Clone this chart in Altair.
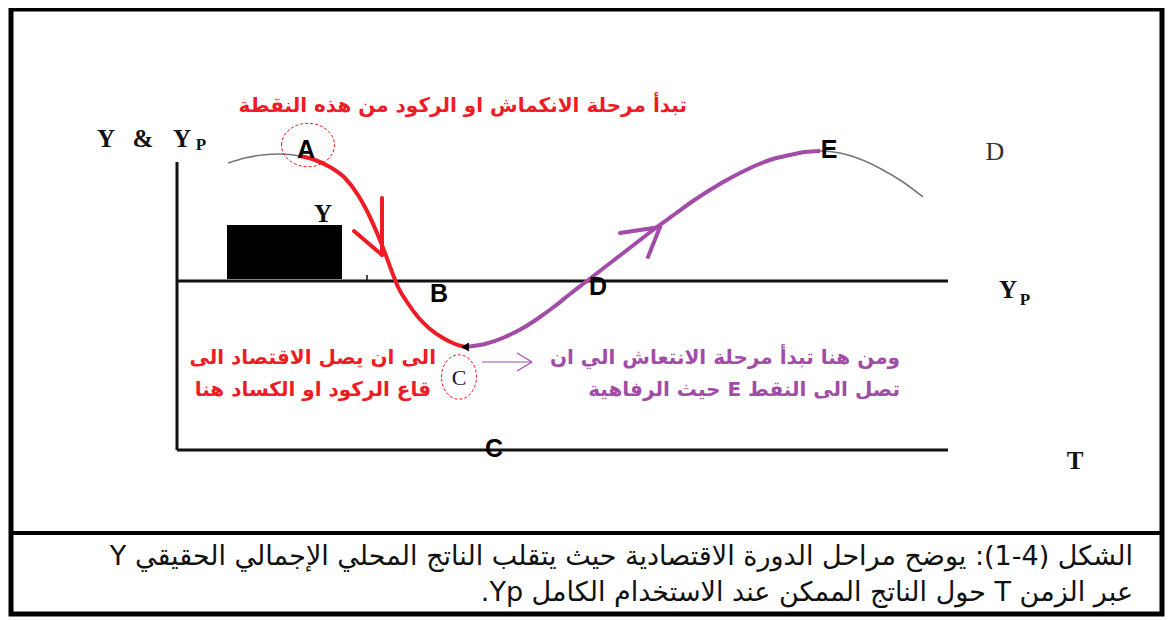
import altair as alt
import pandas as pd

# ---------------- data (diagram units: t to the right of the Y axis, y above the T axis) -------------
curve_t = [51, 68, 85, 103, 123, 138, 153, 168, 181, 191, 200, 208, 215, 221, 230, 241, 253, 266, 278, 288,
           308, 328, 346, 363, 378, 393, 410, 428, 445, 463, 480, 498, 516, 533, 548, 563, 580, 596, 613,
           628, 643, 663, 683, 706, 726, 746]
curve_y = [287, 292, 295, 296, 294, 290, 283, 272, 255, 237, 217, 197, 178, 163, 148, 133, 121, 112, 106, 103,
           106, 113, 122, 133, 144, 156, 169, 183, 196, 210, 223, 236, 249, 260, 269, 277, 285, 291, 295,
           298, 299, 297, 291, 280, 268, 253]
A_IDX, C_IDX, E_IDX = 4, 19, 40

yp_level = 169          # potential output Yp
t_axis_end = 771
y_axis_top = 288

point_names = ["A", "B", "D", "E", "C"]
point_t = [129, 262, 421, 652, 317]
point_y = [292, 148, 155, 292, -7]

red_top = "تبدأ مرحلة الانكماش او الركود من هذه النقطة"
red_left = ["الى ان يصل الاقتصاد الى", "قاع الركود او الكساد هنا"]
purple_right = ["ومن هنا تبدأ مرحلة الانتعاش الي ان", "تصل الى النقط E حيث الرفاهية"]
caption_lines = ["الشكل (4-1): يوضح مراحل الدورة الاقتصادية حيث يتقلب الناتج المحلي الإجمالي الحقيقي Y",
                 "عبر الزمن T حول الناتج الممكن عند الاستخدام الكامل Yp."]

RED = "#ee1c25"
PURPLE = "#a24ca8"


def rtl(s):
    return "\u202b" + s + "\u202c"


XS = alt.Scale(domain=[-169, 988], nice=False, zero=False)
YS = alt.Scale(domain=[-168, 442], nice=False, zero=False)


def X(f="t"):
    return alt.X(f"{f}:Q", scale=XS, axis=None)


def Y(f="y"):
    return alt.Y(f"{f}:Q", scale=YS, axis=None)


def seg(rows):
    return pd.DataFrame(rows, columns=["t", "y", "t2", "y2"])


def txt(rows):
    return pd.DataFrame(rows, columns=["t", "y", "label"])


curve = pd.DataFrame({"t": curve_t, "y": curve_y, "i": range(len(curve_t))})
recession = curve.iloc[A_IDX:C_IDX + 1]
recovery = curve.iloc[C_IDX:E_IDX + 1]

layers = []

# outer frame + caption divider
layers.append(alt.Chart(seg([[-166, 441, 985, -164]])).mark_rect(
    fillOpacity=0, stroke="black", strokeWidth=5).encode(
    x=X(), y=Y(), x2="t2:Q", y2="y2:Q"))
layers.append(alt.Chart(seg([[-166, -83, 985, -83]])).mark_rule(
    color="black", strokeWidth=4).encode(x=X(), y=Y(), x2="t2:Q", y2="y2:Q"))

# axes and Yp line
layers.append(alt.Chart(seg([[0, 0, 0, y_axis_top], [0, 0, t_axis_end, 0],
                             [0, yp_level, t_axis_end, yp_level]])).mark_rule(
    color="#111", strokeWidth=3).encode(x=X(), y=Y(), x2="t2:Q", y2="y2:Q"))
layers.append(alt.Chart(seg([[190, yp_level, 190, yp_level + 6]])).mark_rule(
    color="#111", strokeWidth=1.5).encode(x=X(), y=Y(), x2="t2:Q", y2="y2:Q"))

# black box
layers.append(alt.Chart(seg([[50, 171, 165, 225]])).mark_rect(color="black").encode(
    x=X(), y=Y(), x2="t2:Q", y2="y2:Q"))

# gray Y curve
layers.append(alt.Chart(curve).mark_line(color="#777", strokeWidth=1.6, interpolate="monotone").encode(
    x=X(), y=Y(), order="i:Q"))
# red recession
layers.append(alt.Chart(recession).mark_line(color=RED, strokeWidth=4, interpolate="monotone").encode(
    x=X(), y=Y(), order="i:Q"))
# purple recovery
layers.append(alt.Chart(recovery).mark_line(color=PURPLE, strokeWidth=4, interpolate="monotone").encode(
    x=X(), y=Y(), order="i:Q"))

# arrows
layers.append(alt.Chart(seg([[205, 252, 205, 195], [177, 219, 205, 195]])).mark_rule(
    color=RED, strokeWidth=4, strokeCap="round").encode(x=X(), y=Y(), x2="t2:Q", y2="y2:Q"))
layers.append(alt.Chart(seg([[443, 217, 483, 223], [471, 193, 483, 223]])).mark_rule(
    color=PURPLE, strokeWidth=4, strokeCap="round").encode(x=X(), y=Y(), x2="t2:Q", y2="y2:Q"))
layers.append(alt.Chart(seg([[305, 88, 355, 88], [340, 97, 355, 88], [340, 79, 355, 88]])).mark_rule(
    color=PURPLE, strokeWidth=1.2).encode(x=X(), y=Y(), x2="t2:Q", y2="y2:Q"))

# black blob at C
layers.append(alt.Chart(txt([[288, 103, "C"]])).mark_point(
    shape="triangle-left", filled=True, color="black", size=80, opacity=1).encode(x=X(), y=Y()))

# dashed ellipses around A and C
ell_A = "M -1 0 C -1 -0.45 -0.55 -0.82 0 -0.82 C 0.55 -0.82 1 -0.45 1 0 C 1 0.45 0.55 0.82 0 0.82 C -0.55 0.82 -1 0.45 -1 0 Z"
ell_C = "M -1 0 C -1 -0.7 -0.55 -1.27 0 -1.27 C 0.55 -1.27 1 -0.7 1 0 C 1 0.7 0.55 1.27 0 1.27 C -0.55 1.27 -1 0.7 -1 0 Z"
layers.append(alt.Chart(txt([[131, 305, "A"]])).mark_point(
    shape=ell_A, size=2809, color=RED, strokeWidth=1, strokeDash=[3, 2], opacity=1).encode(x=X(), y=Y()))
layers.append(alt.Chart(txt([[282, 73, "C"]])).mark_point(
    shape=ell_C, size=1225, color=RED, strokeWidth=1, strokeDash=[3, 2], opacity=1).encode(x=X(), y=Y()))

# point letters (sans bold)
pts = pd.DataFrame({"t": point_t, "y": point_y, "label": point_names})
layers.append(alt.Chart(pts).mark_text(
    font="Liberation Sans", fontWeight="bold", fontSize=25, color="black",
    align="center", baseline="alphabetic").encode(x=X(), y=Y(), text="label:N"))

# serif labels
layers.append(alt.Chart(txt([[146, 228, "Y"], [831, 152, "Y"], [898, -19, "T"],
                             [-71, 303, "Y"], [-34, 303, "&"], [5, 303, "Y"]])).mark_text(
    font="Liberation Serif", fontWeight="bold", fontSize=25, color="#111",
    align="center", baseline="alphabetic").encode(x=X(), y=Y(), text="label:N"))
layers.append(alt.Chart(txt([[24, 300, "P"], [848, 145, "P"]])).mark_text(
    font="Liberation Serif", fontWeight="bold", fontSize=17, color="#111",
    align="center", baseline="alphabetic").encode(x=X(), y=Y(), text="label:N"))
layers.append(alt.Chart(txt([[818, 290, "D"]])).mark_text(
    font="Liberation Serif", fontSize=26, color="#333",
    align="center", baseline="alphabetic").encode(x=X(), y=Y(), text="label:N"))
layers.append(alt.Chart(txt([[282, 65, "C"]])).mark_text(
    font="Liberation Serif", fontSize=22, color="#14143a",
    align="center", baseline="alphabetic").encode(x=X(), y=Y(), text="label:N"))

# Arabic annotations
layers.append(alt.Chart(txt([[510, 338, rtl(red_top)]])).mark_text(
    font="DejaVu Sans", fontWeight="bold", fontSize=20, color=RED,
    align="right", baseline="alphabetic").encode(x=X(), y=Y(), text="label:N"))
layers.append(alt.Chart(txt([[259, 92, rtl(red_left[0])], [254, 60, rtl(red_left[1])]])).mark_text(
    font="DejaVu Sans", fontWeight="bold", fontSize=20, color=RED,
    align="right", baseline="middle").encode(x=X(), y=Y(), text="label:N"))
layers.append(alt.Chart(txt([[723, 92, rtl(purple_right[0])], [723, 60, rtl(purple_right[1])]])).mark_text(
    font="DejaVu Sans", fontWeight="bold", fontSize=20, color=PURPLE,
    align="right", baseline="middle").encode(x=X(), y=Y(), text="label:N"))

# caption
layers.append(alt.Chart(txt([[956, -107, rtl(caption_lines[0])], [956, -143, rtl(caption_lines[1])]])).mark_text(
    font="DejaVu Sans", fontSize=27, color="#111",
    align="right", baseline="middle").encode(x=X(), y=Y(), text="label:N"))

chart = alt.layer(*layers).properties(
    width=1157, height=610, padding=0, autosize=alt.AutoSizeParams(type="none"),
    background="white",
).configure_view(stroke=None)

chart.save("out.html", embed_options={"renderer": "svg", "actions": False})
